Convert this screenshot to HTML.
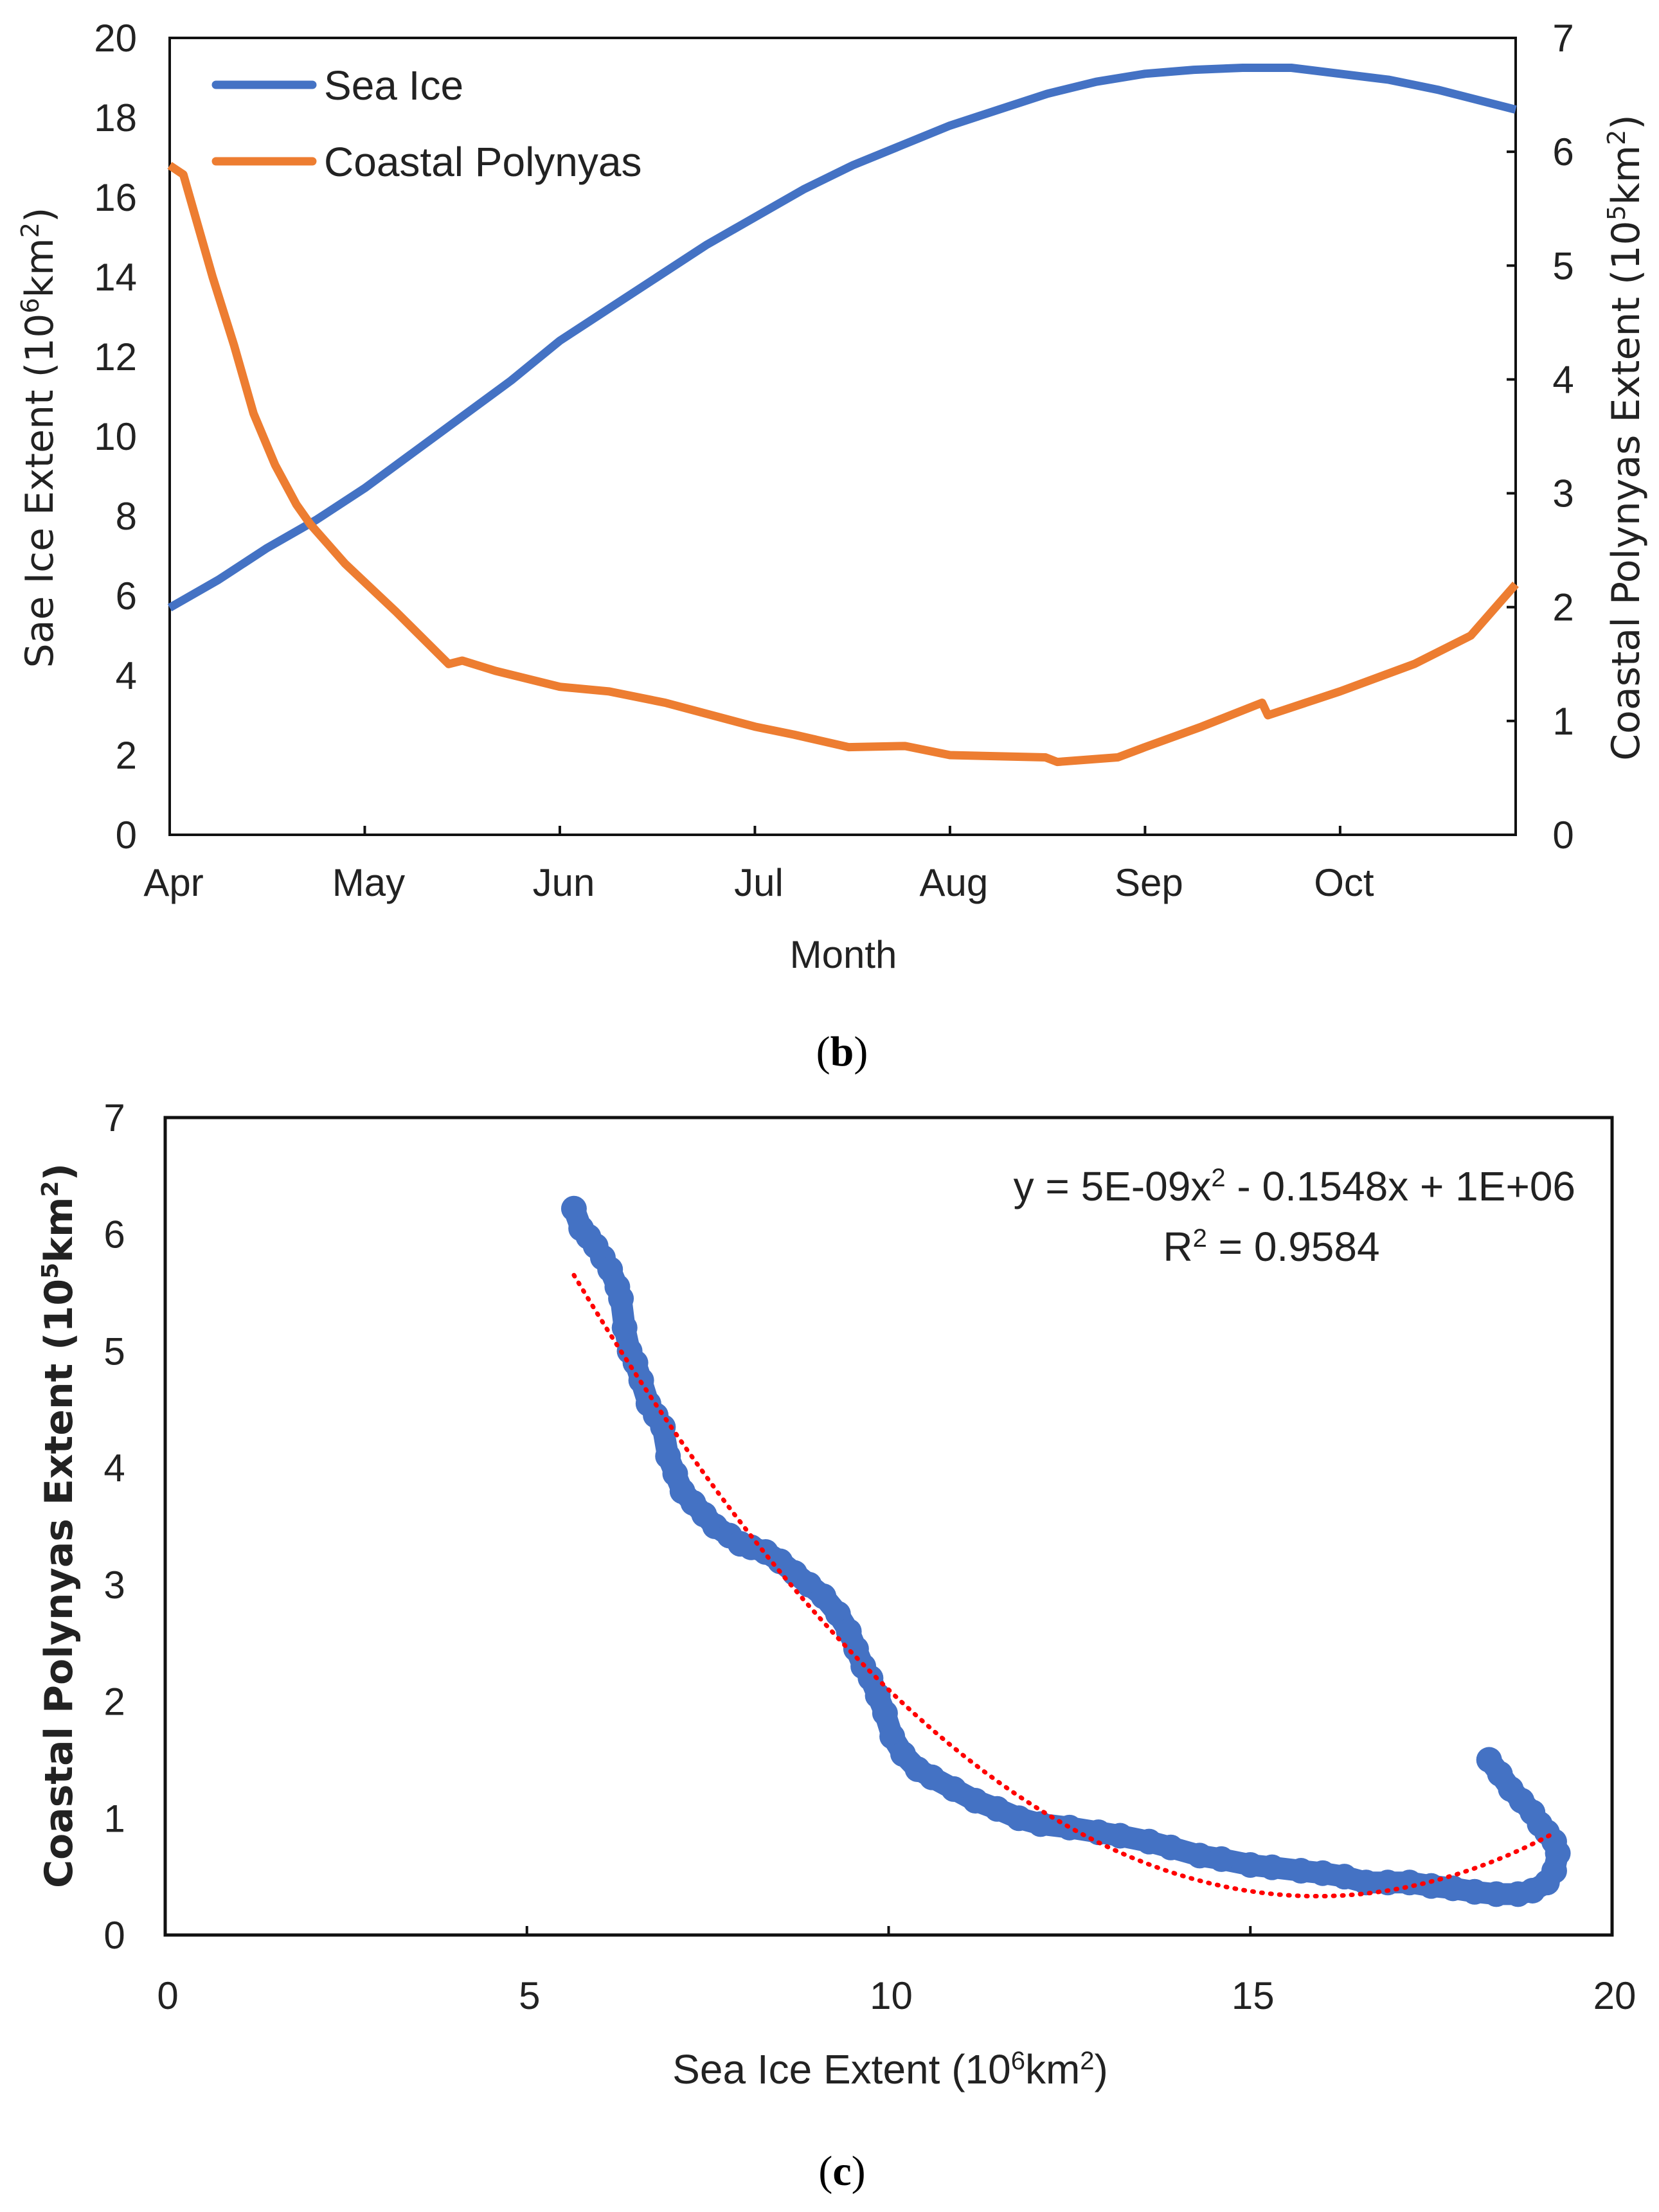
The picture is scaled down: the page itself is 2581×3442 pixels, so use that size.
<!DOCTYPE html>
<html><head><meta charset="utf-8">
<style>
html,body{margin:0;padding:0;background:#fff;}
svg{display:block;}
.tick{font-family:"Liberation Sans Narrow","Liberation Sans",sans-serif;font-size:60px;fill:#222;}
.ttl{font-family:"DejaVu Sans","Liberation Sans",sans-serif;font-size:60px;fill:#222;}
.nar{font-family:"Liberation Sans Narrow","Liberation Sans",sans-serif;font-size:64px;fill:#222;}
.cap{font-family:"Liberation Serif",serif;font-size:66px;fill:#000;}
</style></head>
<body>
<svg id="fig" width="2581" height="3442" viewBox="0 0 2581 3442" xmlns="http://www.w3.org/2000/svg">
<g id="topchart"></g>
<g id="botchart"></g>
<text class="cap" x="1310" y="1658" text-anchor="middle">(<tspan font-weight="bold">b</tspan>)</text>
<text class="cap" x="1310" y="3400" text-anchor="middle">(<tspan font-weight="bold">c</tspan>)</text>
</svg>
<script>
// ---------- data: top chart ----------
const monthLabels = ["Apr","May","Jun","Jul","Aug","Sep","Oct"];
const iceMonths = [0,0.25,0.5,0.75,1,1.25,1.5,1.75,2,2.25,2.5,2.75,3,3.25,3.5,3.75,4,4.25,4.5,4.75,5,5.25,5.5,5.75,6,6.25,6.5,6.9];
const iceValues = [5.7,6.4,7.2,7.9,8.7,9.6,10.5,11.4,12.4,13.2,14.0,14.8,15.5,16.2,16.8,17.3,17.8,18.2,18.6,18.9,19.1,19.2,19.25,19.25,19.1,18.95,18.7,18.2];
const polyMonths = [0,0.07,0.22,0.33,0.43,0.54,0.65,0.72,0.9,1.16,1.43,1.5,1.67,2.0,2.25,2.54,3.0,3.2,3.48,3.77,4.0,4.49,4.55,4.86,5.0,5.29,5.6,5.63,6.0,6.38,6.67,6.9];
const polyValues = [5.88,5.8,4.9,4.3,3.7,3.25,2.9,2.73,2.38,1.96,1.5,1.53,1.44,1.3,1.26,1.16,0.95,0.88,0.77,0.78,0.7,0.68,0.64,0.68,0.77,0.95,1.16,1.05,1.26,1.5,1.75,2.2];
const leftTicks = [0,2,4,6,8,10,12,14,16,18,20];
const rightTicks = [0,1,2,3,4,5,6,7];
// ---------- data: scatter ----------
const scatterX = [5.65,5.75,5.85,5.95,6.05,6.15,6.25,6.3,6.35,6.42,6.5,6.58,6.68,6.78,6.88,6.95,7.05,7.15,7.3,7.45,7.6,7.8,7.95,8.1,8.3,8.5,8.7,8.9,9.1,9.3,9.45,9.55,9.65,9.75,9.85,9.95,10.05,10.2,10.4,10.6,10.9,11.2,11.5,11.8,12.1,12.5,12.9,13.2,13.6,13.9,14.3,14.6,15.0,15.3,15.7,16.0,16.3,16.6,16.9,17.2,17.5,17.8,18.1,18.4,18.7,18.9,19.1,19.2,19.25,19.2,19.1,19.0,18.9,18.75,18.6,18.45,18.3];
const scatterY = [6.22,6.05,5.98,5.9,5.8,5.7,5.55,5.45,5.2,5.0,4.9,4.75,4.55,4.45,4.35,4.1,3.95,3.8,3.7,3.6,3.5,3.42,3.35,3.32,3.28,3.2,3.1,3.0,2.9,2.75,2.6,2.45,2.3,2.2,2.05,1.9,1.7,1.55,1.42,1.35,1.25,1.15,1.08,1.0,0.95,0.92,0.88,0.85,0.8,0.75,0.68,0.65,0.6,0.58,0.55,0.53,0.5,0.45,0.45,0.45,0.42,0.4,0.37,0.35,0.35,0.38,0.45,0.55,0.7,0.8,0.88,0.95,1.05,1.15,1.25,1.38,1.5];
const trendCoef = [0.0504,-1.605,13.11]; // a,b,c
const trendRange = [5.65,19.2];
const bxTicks = [0,5,10,15,20];
const byTicks = [0,1,2,3,4,5,6,7];

const NS="http://www.w3.org/2000/svg";
function mk(parent,tag,attrs,text){const e=document.createElementNS(NS,tag);for(const k in attrs)e.setAttribute(k,attrs[k]);if(text!==undefined)e.textContent=text;parent.appendChild(e);return e;}

// ---------- top chart ----------
const topG=document.getElementById('topchart');
const T={x0:264,x1:2358,y0:1299,y1:59,mMax:6.9};
const tx=m=>T.x0+m/T.mMax*(T.x1-T.x0);
const tyL=v=>T.y0-v/20*(T.y0-T.y1);
const tyR=v=>T.y0-v/7*(T.y0-T.y1);
let el;
el=mk(topG,'rect',{x:T.x0,y:T.y1,width:T.x1-T.x0,height:T.y0-T.y1,fill:'none',stroke:'#111','stroke-width':4});


leftTicks.forEach(v=>{
 el=mk(topG,'text',{class:'tick',x:213,y:tyL(v)+21,'text-anchor':'end'},v);
 
 
});
rightTicks.forEach(v=>{
 el=mk(topG,'line',{x1:T.x1-14,x2:T.x1,y1:tyR(v),y2:tyR(v),stroke:'#111','stroke-width':4});
 
 
 el=mk(topG,'text',{class:'tick',x:2432,y:tyR(v)+21,'text-anchor':'middle'},v);
 
 
});
monthLabels.forEach((m,i)=>{
 el=mk(topG,'line',{x1:tx(i),x2:tx(i),y1:T.y0,y2:T.y0-14,stroke:'#111','stroke-width':4});
 
 
 el=mk(topG,'text',{class:'tick',x:tx(i)+6,y:1394,'text-anchor':'middle'},m);
 
 
});
el=mk(topG,'text',{class:'tick',x:1312,y:1506,'text-anchor':'middle','font-size':66},'Month');


el=mk(topG,'text',{class:'ttl',transform:'translate(82,681) rotate(-90)','text-anchor':'middle'});
el.innerHTML='Sae Ice Extent (10<tspan font-size="38" dy="-22">6</tspan><tspan dy="22">km</tspan><tspan font-size="38" dy="-22">2</tspan><tspan dy="22">)</tspan>';


el=mk(topG,'text',{class:'ttl',transform:'translate(2550,681) rotate(-90)','text-anchor':'middle'});
el.innerHTML='Coastal Polynyas Extent (10<tspan font-size="38" dy="-22">5</tspan><tspan dy="22">km</tspan><tspan font-size="38" dy="-22">2</tspan><tspan dy="22">)</tspan>';


el=mk(topG,'polyline',{points:iceMonths.map((m,i)=>tx(m)+','+tyL(iceValues[i])).join(' '),fill:'none',stroke:'#4472C4','stroke-width':13,'stroke-linejoin':'round'});


el=mk(topG,'polyline',{points:polyMonths.map((m,i)=>tx(m)+','+tyR(polyValues[i])).join(' '),fill:'none',stroke:'#ED7D31','stroke-width':13,'stroke-linejoin':'round'});


el=mk(topG,'line',{x1:336,x2:486,y1:132,y2:132,stroke:'#4472C4','stroke-width':13,'stroke-linecap':'round'});


el=mk(topG,'text',{class:'nar',x:504,y:155},'Sea Ice');


el=mk(topG,'line',{x1:336,x2:486,y1:251,y2:251,stroke:'#ED7D31','stroke-width':13,'stroke-linecap':'round'});


el=mk(topG,'text',{class:'nar',x:504,y:274},'Coastal Polynyas');



// ---------- scatter chart ----------
const botG=document.getElementById('botchart');
const B={x0:257,x1:2508,y0:3011,y1:1739};
const bx=v=>B.x0+v/20*(B.x1-B.x0);
const by=v=>B.y0-v/7*(B.y0-B.y1);
el=mk(botG,'rect',{x:B.x0,y:B.y1,width:B.x1-B.x0,height:B.y0-B.y1,fill:'none',stroke:'#111','stroke-width':5});


byTicks.forEach(v=>{
 el=mk(botG,'text',{class:'tick',x:178,y:by(v)+21,'text-anchor':'middle'},v);
 
 
});
bxTicks.forEach(v=>{
 el=mk(botG,'line',{x1:bx(v),x2:bx(v),y1:B.y0,y2:B.y0-14,stroke:'#111','stroke-width':4});
 
 
 el=mk(botG,'text',{class:'tick',x:bx(v)+4,y:3126,'text-anchor':'middle'},v);
 
 
});
el=mk(botG,'text',{class:'nar',x:1385,y:3242,'text-anchor':'middle'});
el.innerHTML='Sea Ice Extent (10<tspan font-size="40" dy="-22">6</tspan><tspan dy="22">km</tspan><tspan font-size="40" dy="-22">2</tspan><tspan dy="22">)</tspan>';


el=mk(botG,'text',{class:'ttl',transform:'translate(112,2374) rotate(-90)','text-anchor':'middle','font-weight':'bold','font-size':58});
el.innerHTML='Coastal Polynyas Extent (10<tspan font-size="36" dy="-22">5</tspan><tspan dy="22">km</tspan><tspan font-size="36" dy="-22">2</tspan><tspan dy="22">)</tspan>';


el=mk(botG,'polyline',{points:scatterX.map((x,i)=>bx(x)+','+by(scatterY[i])).join(' '),fill:'none',stroke:'#4472C4','stroke-width':34,'stroke-linejoin':'round','stroke-linecap':'round'});


scatterX.forEach((x,i)=>{
 el=mk(botG,'circle',{cx:bx(x),cy:by(scatterY[i]),r:20,fill:'#4472C4'});
 
 
});
const tp=[];
for(let k=0;k<=60;k++){const x=trendRange[0]+(trendRange[1]-trendRange[0])*k/60;const y=trendCoef[0]*x*x+trendCoef[1]*x+trendCoef[2];tp.push(bx(x)+','+by(y));}
el=mk(botG,'polyline',{points:tp.join(' '),fill:'none',stroke:'#FF0000','stroke-width':7,'stroke-dasharray':'2 12','stroke-linecap':'round'});


el=mk(botG,'text',{class:'nar',x:2451,y:1868,'text-anchor':'end'});
el.innerHTML='y = 5E-09x<tspan font-size="40" dy="-22">2</tspan><tspan dy="22"> - 0.1548x + 1E+06</tspan>';


el=mk(botG,'text',{class:'nar',x:1978,y:1962,'text-anchor':'middle'});
el.innerHTML='R<tspan font-size="40" dy="-22">2</tspan><tspan dy="22"> = 0.9584</tspan>';


</script>
</body></html>
